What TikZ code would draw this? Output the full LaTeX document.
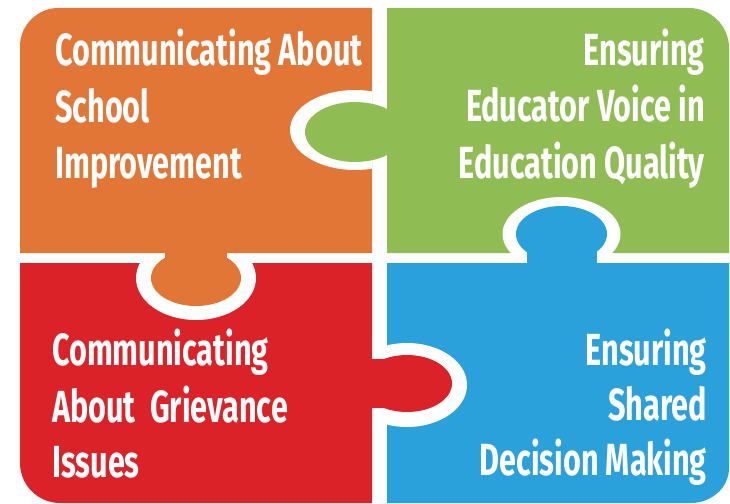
\documentclass[tikz,border=0pt]{standalone}
\usepackage{fontspec}
\newfontfamily\dinfont{Fira Sans}[FakeStretch=0.68]
\definecolor{orangeP}{RGB}{226,118,54}
\definecolor{greenP}{RGB}{143,189,84}
\definecolor{redP}{RGB}{218,34,40}
\definecolor{blueP}{RGB}{42,161,219}
\begin{document}
\begin{tikzpicture}[x=1pt,y=-1pt,
  lbl/.style={text=white,font=\dinfont\bfseries\fontsize{45}{56}\selectfont,inner sep=0pt},
  sock/.style={fill=white}]
\useasboundingbox (0,0) rectangle (730,503);
\clip (0,0) rectangle (730,503);
% pieces
\fill[orangeP] (20,253) -- (20,46) .. controls (20,25) and (38,8) .. (58,8) -- (372,8) -- (372,253) -- cycle;
\fill[greenP] (387,253) -- (387,8) -- (689,8) .. controls (711,8) and (729,26) .. (729,48) -- (729,253) -- cycle;
\fill[redP] (20,263) -- (372,263) -- (372,503) -- (60,503) .. controls (38,503) and (20,485) .. (20,463) -- cycle;
\fill[blueP] (387,263) -- (729,263) -- (729,468) .. controls (729,488) and (711,503) .. (691,503) -- (387,503) -- cycle;
% sockets
\begin{scope}
  \clip (20,8) rectangle (372,253);
  \fill[sock] (355,130) ellipse [x radius=65, y radius=40];
\end{scope}
\begin{scope}
  \clip (20,263) rectangle (372,503);
  \fill[sock] (196,278) ellipse [x radius=60, y radius=42];
\end{scope}
\begin{scope}
  \clip (387,8) rectangle (729,253);
  \fill[sock] (561.5,234) ellipse [x radius=59, y radius=37];
\end{scope}
\begin{scope}
  \clip (387,263) rectangle (729,503);
  \fill[sock] (407,385) ellipse [x radius=60, y radius=42];
\end{scope}
% tabs
\fill[greenP] (355,132) ellipse [x radius=50, y radius=30];
\fill[greenP] (370,110) rectangle (390,154);
\fill[orangeP] (196,278) ellipse [x radius=45, y radius=28];
\fill[orangeP] (165,250) rectangle (227,266);
\fill[blueP] (561.5,234) ellipse [x radius=45.5, y radius=28];
\fill[blueP] (527,250) rectangle (597,266);
\fill[redP] (407,383.5) ellipse [x radius=45, y radius=28.5];
\fill[redP] (370,359) rectangle (390,408);
% texts
\node[lbl,anchor=base west] (o1) at (55,65) {Communicating About};
\node[lbl,anchor=base west] (o2) at (55,122) {School};
\node[lbl,anchor=base west] (o3) at (55,178) {Improvement};
\node[lbl,anchor=base east] (g1) at (705,65) {Ensuring};
\node[lbl,anchor=base east] (g2) at (705,121) {Educator Voice in};
\node[lbl,anchor=base east] (g3) at (705,178) {Education Quality};
\node[lbl,anchor=base west] (r1) at (52,365) {Communicating};
\node[lbl,anchor=base west] (r2) at (52,422) {About\ \ Grievance};
\node[lbl,anchor=base west] (r3) at (52,477) {Issues};
\node[lbl,anchor=base east] (b1) at (707,365) {Ensuring};
\node[lbl,anchor=base east] (b2) at (707,420) {Shared};
\node[lbl,anchor=base east] (b3) at (707,475) {Decision Making};
\end{tikzpicture}
\end{document}
